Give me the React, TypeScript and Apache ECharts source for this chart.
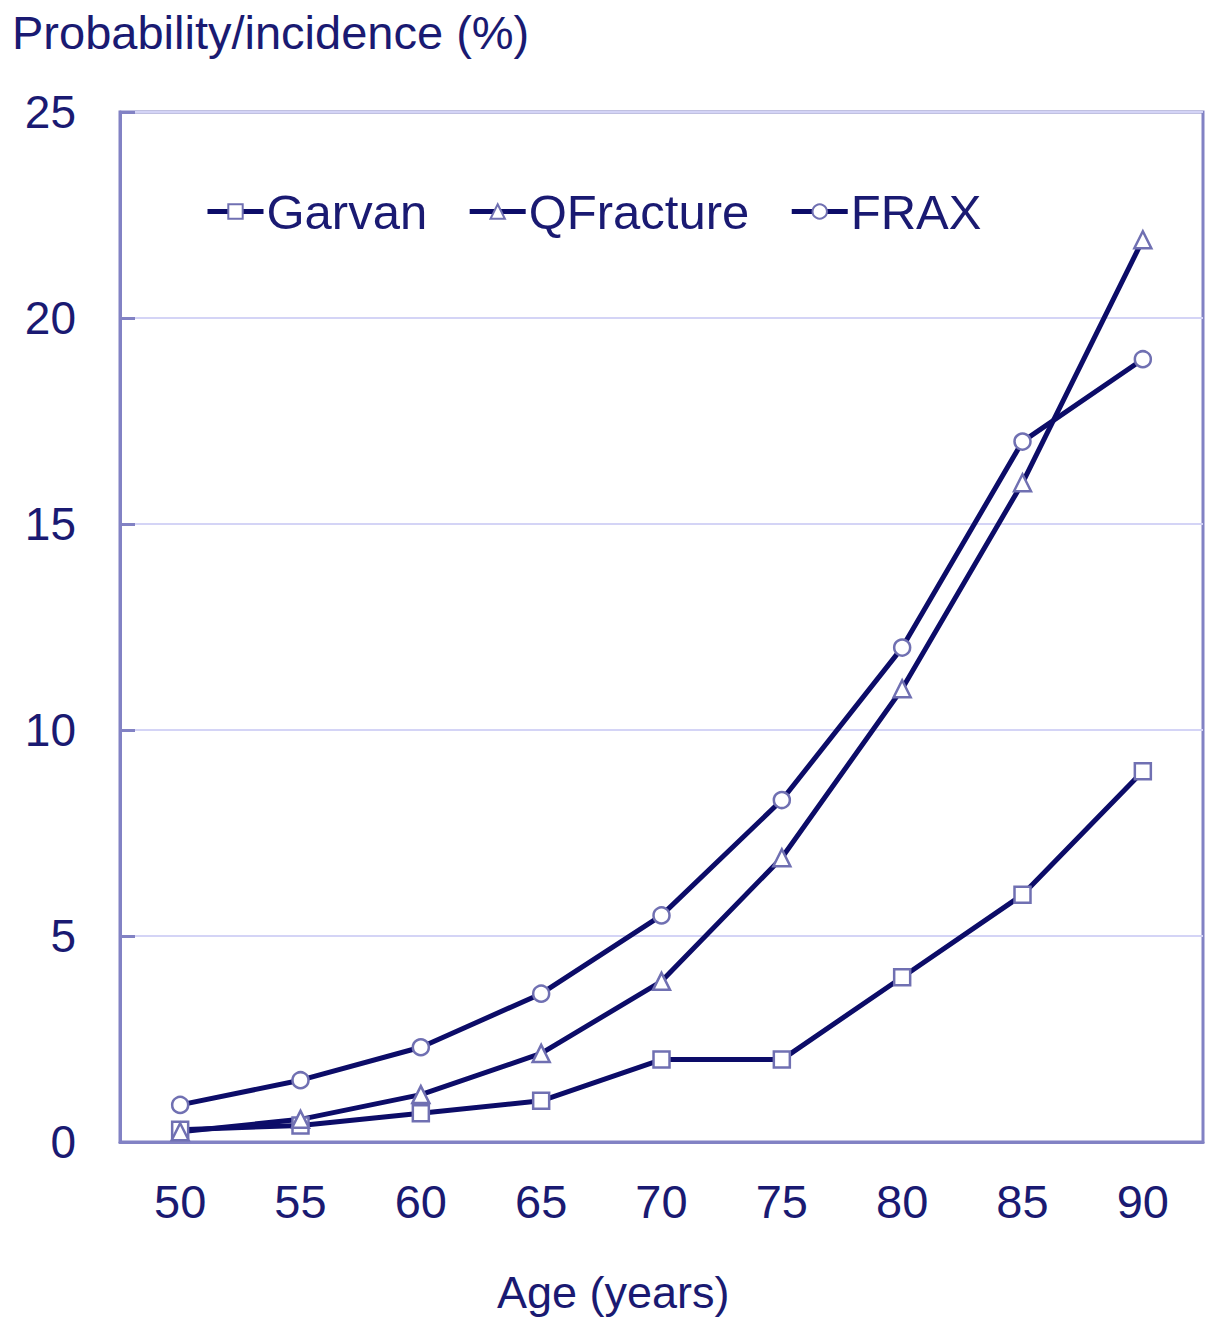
import React, { useEffect, useRef } from "react";
import * as echarts from "echarts";

const ages = ["50", "55", "60", "65", "70", "75", "80", "85", "90"];
const garvan = [0.3, 0.4, 0.7, 1.0, 2.0, 2.0, 4.0, 6.0, 9.0];
const qfracture = [0.25, 0.55, 1.15, 2.15, 3.9, 6.9, 11.0, 16.0, 21.9];
const frax = [0.9, 1.5, 2.3, 3.6, 5.5, 8.3, 12.0, 17.0, 19.0];

const TEXT = "#1a1a72";
const LINE = "#0c0c68";
const AXIS = "#8282c4";
const GRIDLINE = "#d4d4f6";
const MARK_BORDER = "#7070b2";
const FONT = "'Liberation Sans', Arial, sans-serif";

export default function App() {
  const ref = useRef<HTMLDivElement>(null);
  useEffect(() => {
    document.body.style.margin = "0";
    if (!ref.current) return;
    const chart = echarts.init(ref.current, null, { renderer: "svg" });
    const mk = (name: string, data: number[], symbol: string) => ({
      name,
      type: "line",
      data,
      symbol,
      symbolSize: symbol === "triangle" ? 17 : 16,
      showSymbol: true,
      lineStyle: { color: LINE, width: 5 },
      itemStyle: { color: "#ffffff", borderColor: MARK_BORDER, borderWidth: 2.5 },
      emphasis: { disabled: true },
      z: 3,
    });
    chart.setOption({
      animation: false,
      textStyle: { fontFamily: FONT },
      grid: {
        left: 120,
        right: 4,
        top: 112,
        bottom: 179,
        show: true,
        borderColor: AXIS,
        borderWidth: 3,
        backgroundColor: "transparent",
      },
      legend: {
        left: 200,
        top: 182,
        itemWidth: 56,
        itemHeight: 18,
        itemGap: 40,
        lineStyle: { width: 5, color: LINE },
        textStyle: { color: TEXT, fontSize: 49, fontFamily: FONT, padding: [0, 0, 0, -2] },
        data: ["Garvan", "QFracture", "FRAX"],
      },
      xAxis: {
        type: "category",
        data: ages,
        boundaryGap: true,
        axisLine: { lineStyle: { color: AXIS, width: 3 } },
        axisTick: { inside: true, length: 15, lineStyle: { color: AXIS, width: 3 } },
        axisLabel: { color: TEXT, fontSize: 47, margin: 36, fontFamily: FONT },
        splitLine: { show: false },
      },
      yAxis: {
        type: "value",
        min: 0,
        max: 25,
        interval: 5,
        axisLine: { show: true, lineStyle: { color: AXIS, width: 3 } },
        axisTick: { show: true, inside: true, length: 15, lineStyle: { color: AXIS, width: 3 } },
        axisLabel: { color: TEXT, fontSize: 46, margin: 44, fontFamily: FONT },
        splitLine: { show: true, lineStyle: { color: GRIDLINE, width: 2 } },
      },
      graphic: [
        {
          type: "text",
          left: 12,
          top: 9,
          style: { text: "Probability/incidence (%)", fill: TEXT, fontSize: 47, fontFamily: FONT },
        },
        {
          type: "text",
          left: 497,
          top: 1270,
          style: { text: "Age (years)", fill: TEXT, fontSize: 45, fontFamily: FONT },
        },
      ],
      series: [
        mk("Garvan", garvan, "rect"),
        mk("QFracture", qfracture, "triangle"),
        mk("FRAX", frax, "circle"),
      ],
    });
    return () => chart.dispose();
  }, []);
  return <div ref={ref} style={{ width: 1207, height: 1321 }} />;
}
